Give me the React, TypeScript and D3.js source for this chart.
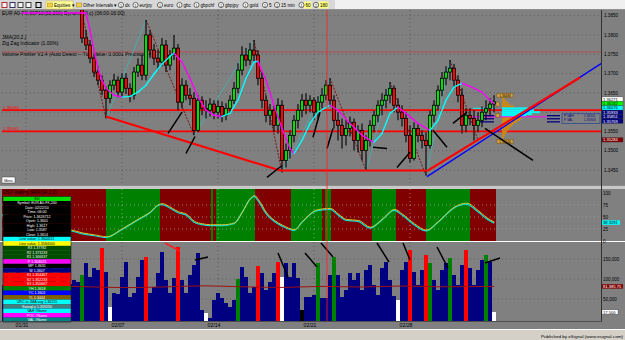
import React, { useEffect } from 'react';
import * as d3 from 'd3';

const FONT = "'Liberation Sans', Arial, Helvetica, sans-serif";

// ---------- data ----------
const dateLabels = ['01/31', '02/07', '02/14', '02/21', '02/28'];
const dateIdx = [6, 30, 54, 78, 102];

const priceTicks = [1.345, 1.35, 1.355, 1.36, 1.365, 1.37, 1.375, 1.38, 1.385];
const oscTicks = [0, 25, 50, 75, 100];
const volTicks = [50000, 100000, 150000];

const firstOpen = 1.3965;
const highs = [
  1.3968, 1.3962, 1.3956, 1.3959, 1.3952, 1.3946, 1.3948, 1.3943, 1.3937, 1.3939,
  1.3933, 1.3926, 1.3928, 1.3922, 1.3916, 1.3918, 1.3913, 1.3904, 1.3906, 1.3901,
  1.3900, 1.3813, 1.3787, 1.3751, 1.3719, 1.3696, 1.3667, 1.3683, 1.3699, 1.3693,
  1.3701, 1.3701, 1.3675, 1.3717, 1.3740, 1.3748, 1.3839, 1.3813, 1.3777, 1.3761,
  1.3792, 1.3787, 1.3761, 1.3800, 1.3777, 1.3688, 1.3683, 1.3662, 1.3652, 1.3644,
  1.3641, 1.3631, 1.3636, 1.3631, 1.3631, 1.3628, 1.3623, 1.3644, 1.3678, 1.3727,
  1.3771, 1.3766, 1.3779, 1.3787, 1.3761, 1.3704, 1.3644, 1.3621, 1.3618, 1.3636,
  1.3631, 1.3519, 1.3553, 1.3592, 1.3621, 1.3647, 1.3649, 1.3644, 1.3639, 1.3641,
  1.3662, 1.3683, 1.3688, 1.3644, 1.3600, 1.3584, 1.3579, 1.3589, 1.3584, 1.3566,
  1.3571, 1.3540, 1.3579, 1.3605, 1.3631, 1.3649, 1.3660, 1.3678, 1.3670, 1.3636,
  1.3618, 1.3600, 1.3566, 1.3574, 1.3569, 1.3553, 1.3548, 1.3605, 1.3631, 1.3670,
  1.3704, 1.3719, 1.3735, 1.3725, 1.3696, 1.3662, 1.3610, 1.3610, 1.3605, 1.3600,
  1.3615, 1.3631, 1.3636, 1.3644,
];
const lows = [
  1.3952, 1.3947, 1.3940, 1.3944, 1.3937, 1.3930, 1.3933, 1.3927, 1.3921, 1.3924,
  1.3917, 1.3910, 1.3913, 1.3906, 1.3900, 1.3903, 1.3894, 1.3888, 1.3891, 1.3882,
  1.3779, 1.3761, 1.3727, 1.3691, 1.3670, 1.3644, 1.3584, 1.3623, 1.3657, 1.3639,
  1.3639, 1.3647, 1.3626, 1.3633, 1.3691, 1.3683, 1.3683, 1.3740, 1.3722, 1.3709,
  1.3719, 1.3704, 1.3709, 1.3735, 1.3605, 1.3610, 1.3631, 1.3618, 1.3540, 1.3548,
  1.3592, 1.3584, 1.3589, 1.3582, 1.3584, 1.3574, 1.3579, 1.3597, 1.3621, 1.3649,
  1.3696, 1.3719, 1.3722, 1.3730, 1.3670, 1.3610, 1.3574, 1.3566, 1.3548, 1.3545,
  1.3444, 1.3457, 1.3480, 1.3522, 1.3558, 1.3587, 1.3595, 1.3600, 1.3579, 1.3584,
  1.3610, 1.3631, 1.3615, 1.3558, 1.3527, 1.3506, 1.3514, 1.3537, 1.3501, 1.3496,
  1.3475, 1.3449, 1.3511, 1.3548, 1.3574, 1.3592, 1.3610, 1.3623, 1.3600, 1.3579,
  1.3563, 1.3522, 1.3470, 1.3475, 1.3522, 1.3506, 1.3436, 1.3506, 1.3574, 1.3605,
  1.3641, 1.3670, 1.3683, 1.3662, 1.3626, 1.3545, 1.3548, 1.3566, 1.3527, 1.3548,
  1.3561, 1.3579, 1.3589, 1.3600,
];
const closes = [
  1.3960, 1.3955, 1.3948, 1.3952, 1.3945, 1.3938, 1.3941, 1.3935, 1.3929, 1.3932,
  1.3925, 1.3918, 1.3921, 1.3914, 1.3908, 1.3911, 1.3902, 1.3896, 1.3899, 1.3890,
  1.3792, 1.3774, 1.3740, 1.3704, 1.3683, 1.3657, 1.3636, 1.3670, 1.3683, 1.3652,
  1.3688, 1.3662, 1.3644, 1.3704, 1.3722, 1.3696, 1.3800, 1.3761, 1.3740, 1.3730,
  1.3774, 1.3722, 1.3748, 1.3766, 1.3626, 1.3670, 1.3644, 1.3636, 1.3553, 1.3631,
  1.3610, 1.3605, 1.3621, 1.3600, 1.3615, 1.3592, 1.3610, 1.3631, 1.3662, 1.3709,
  1.3748, 1.3735, 1.3761, 1.3748, 1.3688, 1.3631, 1.3592, 1.3605, 1.3566, 1.3618,
  1.3475, 1.3501, 1.3540, 1.3579, 1.3605, 1.3631, 1.3618, 1.3631, 1.3600, 1.3626,
  1.3644, 1.3670, 1.3631, 1.3579, 1.3566, 1.3540, 1.3558, 1.3574, 1.3527, 1.3553,
  1.3501, 1.3527, 1.3566, 1.3592, 1.3618, 1.3631, 1.3644, 1.3662, 1.3618, 1.3600,
  1.3584, 1.3540, 1.3480, 1.3558, 1.3540, 1.3527, 1.3514, 1.3592, 1.3618, 1.3657,
  1.3688, 1.3704, 1.3714, 1.3683, 1.3644, 1.3566, 1.3592, 1.3584, 1.3566, 1.3579,
  1.3600, 1.3610, 1.3621, 1.3627,
];

const volumes = [
  85000, 122500, 72500, 110000, 135000, 97500, 60000, 122500, 147500, 85000,
  102500, 72500, 127500, 110000, 77500, 117500, 132500, 87500, 97500, 92500,
  110000, 140000, 105000, 127500, 122500, 177500, 117500, 30000, 65000, 62500,
  105000, 142500, 55000, 65000, 105000, 147500, 155000, 65000, 80000, 115000,
  167500, 97500, 65000, 102500, 180000, 97500, 65000, 110000, 135000, 165000,
  22500, 15000, 2500, 47500, 65000, 52500, 40000, 30000, 47500, 100000,
  130000, 105000, 65000, 80000, 132500, 115000, 72500, 92500, 115000, 142500,
  105000, 140000, 105000, 140000, 102500, 22500, 55000, 55000, 60000, 140000,
  52500, 52500, 110000, 155000, 110000, 55000, 72500, 115000, 97500, 115000,
  72500, 122500, 135000, 85000, 60000, 127500, 142500, 97500, 57500, 47500,
  122500, 142500, 172500, 117500, 85000, 122500, 160000, 140000, 97500, 72500,
  122500, 140000, 152500, 110000, 85000, 135000, 172500, 127500, 85000, 122500,
  147500, 160000, 142500, 17500,
];
const volCodes = (
  'bbbbbbbbbb' + 'bbbbbbbbbb' + 'gbbbbrbwbb' + 'bbbbbbrbbb' + 'bbbbrbbbbb' +
  'bwbbbbbbbg' + 'bbbbrbbbbr' + 'wbbbbkbbbg' + 'bbbgbbbbbb' + 'bbbbbbbbbw' +
  'bbrbbbrgbb' + 'bbgbbbrbbb' + 'bgbw'
).split('');

const volAvgIdx = [0, 10, 20, 30, 40, 50, 60, 70, 80, 90, 100, 110, 123];
const volAvgVal = [80000, 82000, 81000, 78500, 80000, 83000, 80500, 79000, 81500, 80000, 82500, 80500, 81385.75];

const maIdx = [5, 12, 19, 21, 22, 23, 24, 25, 26, 28, 30, 32, 34, 36, 38, 40, 42, 43, 45, 47, 49, 51, 53, 55, 57, 59, 61, 63, 64, 66, 68, 70, 72, 73, 75, 77, 79, 82, 84, 87, 90, 93, 95, 97, 99, 101, 104, 107, 109, 111, 113, 115, 117, 120, 122, 123];
const maVal = [1.3950, 1.3920, 1.3885, 1.3860, 1.3813, 1.3761, 1.3714, 1.3683, 1.3662, 1.3644, 1.3639, 1.3641, 1.3652, 1.3670, 1.3699, 1.3725, 1.3745, 1.3753, 1.3730, 1.3688, 1.3639, 1.3605, 1.3592, 1.3589, 1.3597, 1.3631, 1.3688, 1.3730, 1.3732, 1.3683, 1.3618, 1.3558, 1.3506, 1.3493, 1.3527, 1.3571, 1.3600, 1.3618, 1.3605, 1.3571, 1.3540, 1.3522, 1.3545, 1.3597, 1.3613, 1.3597, 1.3571, 1.3553, 1.3579, 1.3631, 1.3665, 1.3675, 1.3667, 1.3652, 1.3631, 1.3623];

const zzIdx = [19, 26, 36, 48, 63, 70, 82, 91, 97, 106, 112, 119];
const zzVal = [1.3900, 1.3584, 1.3839, 1.3540, 1.3787, 1.3444, 1.3688, 1.3449, 1.3678, 1.3436, 1.3735, 1.3527];

const redTrendIdx = [26, 69.5, 106.5, 144.5];
const redTrendVal = [1.3589, 1.3449, 1.3449, 1.3690];
const blueTrendIdx = [106.25, 152];
const blueTrendVal = [1.3433, 1.3741];

const blkIdx0 = [41.5, 46, 66.25, 77.75, 81.25, 92.75, 98.75, 107.75, 112.75, 120.75];
const blkVal0 = [1.3545, 1.3493, 1.3431, 1.3535, 1.3506, 1.3509, 1.3457, 1.3553, 1.3571, 1.3558];
const blkIdx1 = [45, 48.25, 70, 79.5, 82.75, 96.25, 102, 111.25, 116.25, 132.75];
const blkVal1 = [1.3600, 1.3537, 1.3462, 1.3600, 1.3558, 1.3506, 1.3496, 1.3509, 1.3600, 1.3475];

const vAnnIdx0 = [40.75, 48.25, 69, 75.75, 79.75, 93.75, 100.25, 108.75, 120.75];
const vAnnVal0 = [190000, 147500, 165000, 165000, 190000, 190000, 190000, 180000, 140000];
const vAnnIdx1 = [44.5, 51.5, 71.5, 78.75, 82.75, 96.75, 102, 111.5, 124.5];
const vAnnVal1 = [170000, 155000, 105000, 130000, 155000, 142500, 147500, 127500, 152500];
const vAnnCol = ['r', 'k', 'k', 'k', 'k', 'k', 'k', 'k', 'k'];

const oscIdx = [0, 4, 8, 12, 16, 20, 23, 26, 30, 34, 37, 39, 40, 41, 44, 46, 48, 50, 52, 55, 58, 60, 62, 63, 64, 66, 68, 70, 73, 75, 78, 80, 82, 84, 86, 89, 92, 95, 98, 100, 103, 106, 109, 113, 116, 119, 121, 123];
const oscVal = [55, 48, 40, 33, 25, 16, 12, 8, 25, 45, 60, 75, 77, 74, 60, 55, 40, 35, 33, 33, 37, 60, 88, 94, 85, 58, 42, 32, 23, 40, 62, 66, 67, 55, 44, 42, 28, 45, 65, 55, 35, 22, 40, 70, 78, 62, 48, 38.3291];
const bandStart = [-0.25, 26, 39.5, 52.25, 52.75, 53.5, 63.25, 72.25, 80, 80.75, 82.25, 92.5, 98.5, 106, 117];
const bandCol = ['r', 'g', 'r', 'g', 'r', 'g', 'r', 'g', 'r', 'g', 'r', 'g', 'r', 'g', 'r'];
const bandEnd = 123.5;

const profPrice = [1.3635, 1.3630, 1.3625, 1.3620, 1.3615, 1.3610, 1.3605, 1.3600, 1.3595, 1.3590, 1.3585, 1.3580, 1.3575, 1.3570, 1.3565, 1.3560, 1.3555, 1.3550, 1.3545, 1.3540, 1.3535];
const profVol = [20, 40, 60, 80, 120, 260, 320, 380, 300, 240, 200, 180, 150, 120, 100, 80, 70, 50, 40, 30, 20];
const profCode = ['o', 'o', 'o', 'o', 'o', 'c', 'c', 'c', 'c', 'c', 'o', 'o', 'o', 'o', 'o', 'o', 'o', 'o', 'o', 'o', 'o'];

const levelVals = [1.36056, 1.35501];
const levelLabels = ['1.36056', '1.35501'];
const thinLevel = 1.3756;

const axisBoxVal = [1.36271, 1.36182, 1.36076, 1.35933, 1.35851, 1.35769, 1.35284];
const axisBoxFill = ['#ffffff', '#00ff00', '#00ffff', '#000080', '#000080', '#000080', '#800000'];
const axisBoxFg = ['#000', '#000', '#000', '#fff', '#fff', '#fff', '#fff'];

const legendText = ['EU', 'Symbol: EUR A0-FX,240', 'Date: 02/22/10', 'Time: 06:00', 'Price: 1.3626712', 'Open: 1.3601', 'High: 1.3617', 'Low: 1.3587', 'Close: 1.3614', 'Line value: 1.3604111', 'Line value: 1.3584000', 'R3  1.37782', 'R2  1.373233', 'R1  1.366637', 'P  1.364023', 'MP  1.3631', 'W  1.3607', 'S1  1.354467', 'S2  1.352233', 'S3  1.350667', 'YH  1.3618', 'YC  1.3601', 'YL  1.3444', 'URC to JMA avg 1.36155', 'SwingLo 1.359250', 'VAH #Name', 'POC #Name', 'VAL #Name'];
const legendBg = ['#00e000', '#000', '#000', '#000', '#000', '#000', '#000', '#000', '#000', '#00ffff', '#ffff00', '#004d00', '#004d00', '#004d00', '#ff00ff', '#000', '#000080', '#ff0000', '#ff0000', '#ff0000', '#008000', '#0000ff', '#806000', '#00ffff', '#408080', '#00ffff', '#ff00ff', '#008080'];
const legendFg = ['#000', '#fff', '#fff', '#fff', '#fff', '#fff', '#fff', '#fff', '#fff', '#000', '#000', '#fff', '#fff', '#fff', '#fff', '#fff', '#fff', '#fff', '#fff', '#fff', '#fff', '#fff', '#fff', '#000', '#fff', '#000', '#fff', '#fff'];

const toolbarLabels = ['dx', 'eurjpy', 'euro', 'gbc', 'gbpchf', 'gbpjpy', 'gold', '5', '15 min', '60', '180'];
const toolbarHot = ['60', '180'];

const headerLines = ['JMA(20,2,)', 'Zig Zag Indicator (1.00%)', 'Volume Profiler V2.4 (Auto Detect -- Tick Value: 0.0001 Precision: 4)'];

// ---------- layout ----------
const M = { x0: 2, x1: 601, y0: 10, y1: 185 };
const O = { y0: 189, y1: 241 };
const V = { y0: 242, y1: 321 };

export default function App() {
  useEffect(() => {
    document.body.style.margin = '0';
  }, []);

  const xS = d3.scaleLinear().domain([0, 123]).range([2, 494]);
  const pY = d3.scaleLinear().domain([1.345, 1.38]).range([170.1, 35]);
  const oY = d3.scaleLinear().domain([0, 100]).range([241, 193]);
  const vY = d3.scaleLinear().domain([0, 150000]).range([319, 259]);
  const profW = d3.scaleLinear().domain([0, 380]).range([0, 38]);
  const fmtVol = d3.format(',');
  const fmtAvg = d3.format(',.2f');

  const opens = closes.map((c, i) => (i === 0 ? firstOpen : closes[i - 1]));

  const volColor: Record<string, string> = { b: '#000080', r: '#ff0000', g: '#008000', w: '#ffffff', k: '#000000' };
  const bandColor: Record<string, string> = { r: '#800000', g: '#008000' };

  const maSegs = maIdx.slice(1).map((_, k) => {
    const a = k, b = k + 1;
    const y1 = Math.max(pY(maVal[a]), 13), y2 = Math.max(pY(maVal[b]), 13);
    return { x1: xS(maIdx[a]), y1, x2: xS(maIdx[b]), y2, up: maVal[b] > maVal[a] };
  });
  const zzSegs = zzIdx.slice(1).map((_, k) => ({
    x1: xS(zzIdx[k]), y1: pY(zzVal[k]), x2: xS(zzIdx[k + 1]), y2: pY(zzVal[k + 1]), up: zzVal[k + 1] > zzVal[k],
  }));

  const lineP = d3.line<[number, number]>().x(d => xS(d[0])).y(d => pY(d[1]));
  const oscLine = d3.line<[number, number]>().x(d => xS(d[0])).y(d => oY(d[1])).curve(d3.curveMonotoneX);
  const avgLine = d3.line<[number, number]>().x(d => xS(d[0])).y(d => vY(d[1])).curve(d3.curveMonotoneX);

  const oscData = oscIdx.map((v, i) => [v, oscVal[i]] as [number, number]);
  const avgData = volAvgIdx.map((v, i) => [v, volAvgVal[i]] as [number, number]);

  const boxH = 4.4;
  const boxY = axisBoxVal.map(v => pY(v));
  for (let k = boxY.length - 2; k >= 0; k--) {
    if (boxY[k] > boxY[k + 1] - boxH) boxY[k] = boxY[k + 1] - boxH;
  }

  let tx = 118;
  const tbItems = toolbarLabels.map(l => {
    const w = l.length * 2.5 + 9.5;
    const item = { l, x: tx, w };
    tx += w;
    return item;
  });

  const rowH = (322 - 196.5) / legendText.length;
  const markerX = xS(81.25);
  const profX = xS(125);

  return (
    <svg width={625} height={340} style={{ position: 'absolute', left: 0, top: 0, display: 'block' }} fontFamily={FONT}>
      <defs>
        <clipPath id="mainClip"><rect x={M.x0} y={M.y0} width={M.x1 - M.x0} height={M.y1 - M.y0} /></clipPath>
        <clipPath id="oscClip"><rect x={2} y={O.y0} width={599} height={O.y1 - O.y0} /></clipPath>
        <clipPath id="volClip"><rect x={2} y={V.y0} width={599} height={V.y1 - V.y0} /></clipPath>
      </defs>
      <rect x={0} y={0} width={625} height={340} fill="#808080" />

      {/* toolbar */}
      <rect x={0} y={0} width={335} height={10} fill="#d8d8d8" />
      <rect x={335} y={0} width={290} height={10} fill="#f0f0f0" />
      <line x1={0} x2={625} y1={9.5} y2={9.5} stroke="#909090" strokeWidth={1} />
      {['#b03030', '#303060', '#404040', '#404040', '#000000'].map((c, k) => (
        <rect key={k} x={2 + k * 8 + (k === 4 ? 2 : 0)} y={2.5} width={5} height={5} fill={k === 4 ? 'none' : '#f4f4f4'} stroke={c} strokeWidth={1} />
      ))}
      <rect x={46} y={1} width={27} height={8} fill="#ffff99" stroke="#c8b040" strokeWidth={0.5} />
      <rect x={47.5} y={3} width={5} height={4} fill="#f0d040" stroke="#a08020" strokeWidth={0.5} />
      <text x={54} y={7} fontSize={4.6} fill="#000">Equities ▾</text>
      <rect x={76.5} y={3} width={5} height={4} fill="#f0d040" stroke="#a08020" strokeWidth={0.5} />
      <text x={83} y={7} fontSize={4.6} fill="#000">Other Intervals ▾</text>
      {tbItems.map(it => (
        <g key={it.l}>
          {toolbarHot.includes(it.l) && <rect x={it.x + 5.5} y={1.5} width={it.w - 7} height={7} fill="#ffff80" />}
          <circle cx={it.x + 3} cy={5} r={2.6} fill="#fafafa" stroke="#303030" strokeWidth={0.7} />
          <text x={it.x + 3} y={6.5} fontSize={3.6} textAnchor="middle" fill="#000">1</text>
          <text x={it.x + 7} y={7} fontSize={4.6} fill="#000">{it.l}</text>
        </g>
      ))}

      {/* main panel */}
      <g clipPath="url(#mainClip)">
        {priceTicks.map(t => (
          <line key={t} x1={M.x0} x2={M.x1} y1={pY(t)} y2={pY(t)} stroke="#505050" strokeWidth={0.8} strokeDasharray="1,3" />
        ))}
        {dateIdx.map(d => (
          <line key={d} x1={xS(d)} x2={xS(d)} y1={M.y0} y2={M.y1} stroke="#505050" strokeWidth={0.8} strokeDasharray="1,3" />
        ))}
        <text x={2} y={15} fontSize={5} fill="#000">EUR A0-FX,60</text>
        <text x={35} y={15} fontSize={5} fill="#000">P10(32,200) Dynamic(3,c) (06:00-16:00)</text>
        {headerLines.map((t, k) => (
          <text key={t} x={2} y={[39, 45, 56][k]} fontSize={5} fill="#000">{t}</text>
        ))}
        <line x1={M.x0} x2={M.x1} y1={pY(thinLevel)} y2={pY(thinLevel)} stroke="#c04040" strokeWidth={0.8} />
        {levelVals.map((v, k) => (
          <g key={v}>
            <line x1={M.x0} x2={M.x1} y1={pY(v)} y2={pY(v)} stroke="#ff0000" strokeWidth={1.8} />
            <text x={3} y={pY(v) - 1.2} fontSize={4.4} fill="#ff0000">{levelLabels[k]}</text>
          </g>
        ))}

        {/* volume profile */}
        {profPrice.map((p, k) => (
          <rect key={p} x={profX} y={pY(p) - 0.95} width={profW(profVol[k])} height={1.9}
            fill={profCode[k] === 'c' ? '#00ffff' : '#d08a10'} />
        ))}
        <line x1={xS(115)} x2={xS(136.25)} y1={pY(1.3588)} y2={pY(1.3588)} stroke="#ff00ff" strokeWidth={1} />
        <line x1={xS(117.75)} x2={xS(122.75)} y1={pY(1.3610)} y2={pY(1.3610)} stroke="#00ffff" strokeWidth={1} />
        {[1.3591, 1.3583, 1.3575].map(p => (
          <g key={p}>
            <line x1={xS(119.5)} x2={xS(123)} y1={pY(p)} y2={pY(p)} stroke="#000080" strokeWidth={1.3} />
            <line x1={xS(136.25)} x2={xS(139.5)} y1={pY(p)} y2={pY(p)} stroke="#000080" strokeWidth={1.3} />
          </g>
        ))}
        <rect x={xS(140)} y={pY(1.3596)} width={38} height={pY(1.3571) - pY(1.3596)} fill="none" stroke="#2040a0" strokeWidth={0.7} />
        <text x={xS(140) + 2} y={pY(1.3588)} fontSize={3.2} fill="#000080">P-VAH</text>
        <text x={xS(140) + 22} y={pY(1.3588)} fontSize={3.2} fill="#000080">1.36101</text>
        <text x={xS(140) + 2} y={pY(1.3578)} fontSize={3.2} fill="#000080">P-VAL</text>
        <text x={xS(140) + 22} y={pY(1.3578)} fontSize={3.2} fill="#000080">1.35903</text>
        {[1.36436, 1.35244].map(p => (
          <g key={p}>
            <rect x={xS(123.75)} y={pY(p) - 2} width={16} height={4} fill="#d4a040" stroke="#604000" strokeWidth={0.4} />
            <text x={xS(123.75) + 8} y={pY(p) + 1.2} fontSize={3.2} textAnchor="middle" fill="#000">{p.toFixed(5)}</text>
          </g>
        ))}
        {[1.3621, 1.3592].map(p => (
          <rect key={p} x={xS(123.5)} y={pY(p) - 2} width={3.5} height={4} fill="#d4a040" stroke="#604000" strokeWidth={0.4} />
        ))}

        {/* zigzag */}
        {zzSegs.map((s, k) => (
          <line key={k} x1={s.x1} y1={s.y1} x2={s.x2} y2={s.y2}
            stroke={s.up ? '#30c0c0' : '#800000'} strokeWidth={s.up ? 0.7 : 0.9}
            strokeDasharray={s.up ? undefined : '2,1.4'} />
        ))}

        {/* candles */}
        {closes.map((c, i) => {
          const o = opens[i];
          const x = xS(i);
          const top = pY(Math.max(o, c));
          const bot = pY(Math.min(o, c));
          return (
            <g key={i}>
              <line x1={x} x2={x} y1={pY(highs[i])} y2={pY(lows[i])} stroke="#000" strokeWidth={1.1} />
              <rect x={x - 1.5} y={top} width={3} height={Math.max(1, bot - top)}
                fill={c >= o ? '#00e000' : '#ff0000'} stroke="#000" strokeWidth={0.8} />
            </g>
          );
        })}

        {/* moving average */}
        {maSegs.map((s, k) => (
          <line key={k} x1={s.x1} y1={s.y1} x2={s.x2} y2={s.y2} stroke={s.up ? '#00ffff' : '#ff00ff'} strokeWidth={1.4} strokeLinecap="round" />
        ))}

        {/* trend lines */}
        <path d={lineP(blueTrendIdx.map((v, i) => [v, blueTrendVal[i]] as [number, number])) || ''} fill="none" stroke="#0000ff" strokeWidth={1.4} />
        <path d={lineP(redTrendIdx.map((v, i) => [v, redTrendVal[i]] as [number, number])) || ''} fill="none" stroke="#ff0000" strokeWidth={2.2} />

        {/* black annotations */}
        {blkIdx0.map((v, k) => (
          <line key={k} x1={xS(v)} y1={pY(blkVal0[k])} x2={xS(blkIdx1[k])} y2={pY(blkVal1[k])} stroke="#000" strokeWidth={1.5} />
        ))}

        <rect x={2} y={177} width={13} height={6} fill="#ffffff" stroke="#404040" strokeWidth={0.5} />
        <text x={8.5} y={181.6} fontSize={3.4} textAnchor="middle" fill="#000">Menu</text>
      </g>

      {/* separators */}
      <rect x={0} y={185} width={625} height={4} fill="#c8c8c8" />
      <line x1={0} x2={625} y1={185.5} y2={185.5} stroke="#606060" strokeWidth={0.6} />

      {/* oscillator panel */}
      <g clipPath="url(#oscClip)">
        {bandStart.map((s, k) => {
          const e = k < bandStart.length - 1 ? bandStart[k + 1] : bandEnd;
          return <rect key={k} x={xS(s)} y={O.y0} width={xS(e) - xS(s)} height={O.y1 - O.y0} fill={bandColor[bandCol[k]]} />;
        })}
        {[25, 50, 75].map(t => (
          <line key={t} x1={2} x2={601} y1={oY(t)} y2={oY(t)} stroke="#b0b0b0" strokeWidth={0.7} strokeDasharray="1,3" />
        ))}
        {dateIdx.map(d => (
          <line key={d} x1={xS(d)} x2={xS(d)} y1={O.y0} y2={O.y1} stroke="#b0b0b0" strokeWidth={0.7} strokeDasharray="1,3" />
        ))}
        <path d={oscLine(oscData) || ''} fill="none" stroke="#00e0e0" strokeWidth={1.2} transform="translate(0,0.5)" />
        <path d={oscLine(oscData) || ''} fill="none" stroke="#d8c830" strokeWidth={1} transform="translate(0.6,-0.4)" />
        <text x={3} y={193.5} fontSize={4.8} fill="#000">DSX trailing SMA(14,2,2)</text>
      </g>
      <line x1={0} x2={625} y1={241.5} y2={241.5} stroke="#ffffff" strokeWidth={1} />

      {/* volume panel */}
      <g clipPath="url(#volClip)">
        {volTicks.map(t => (
          <line key={t} x1={2} x2={601} y1={vY(t)} y2={vY(t)} stroke="#505050" strokeWidth={0.8} strokeDasharray="1,3" />
        ))}
        {dateIdx.map(d => (
          <line key={d} x1={xS(d)} x2={xS(d)} y1={V.y0} y2={V.y1} stroke="#505050" strokeWidth={0.8} strokeDasharray="1,3" />
        ))}
        {volumes.map((v, i) => (
          <rect key={i} x={xS(i) - 2} y={vY(v)} width={4} height={vY(0) + 2 - vY(v)} fill={volColor[volCodes[i]]} />
        ))}
        <path d={avgLine(avgData) || ''} fill="none" stroke="#a01010" strokeWidth={1} />
        {vAnnIdx0.map((v, k) => (
          <line key={k} x1={xS(v)} y1={vY(vAnnVal0[k])} x2={xS(vAnnIdx1[k])} y2={vY(vAnnVal1[k])}
            stroke={vAnnCol[k] === 'r' ? '#ff2020' : '#000'} strokeWidth={1.5} />
        ))}
      </g>

      {/* current bar marker */}
      <line x1={markerX} x2={markerX} y1={M.y0} y2={V.y1} stroke="#ff2020" strokeWidth={0.8} />

      {/* legend box */}
      <g>
        {legendText.map((t, k) => (
          <g key={k}>
            <rect x={3} y={196.5 + k * rowH} width={68} height={rowH + 0.1} fill={legendBg[k]} />
            <text x={37} y={196.5 + k * rowH + rowH * 0.78} fontSize={3.6} textAnchor="middle" fill={legendFg[k]}>{t}</text>
          </g>
        ))}
        <rect x={3} y={196.5} width={68} height={rowH * legendText.length} fill="none" stroke="#202020" strokeWidth={0.6} />
      </g>

      {/* right axis */}
      <line x1={601.5} x2={601.5} y1={M.y0} y2={V.y1} stroke="#303030" strokeWidth={1} />
      {priceTicks.map(t => (
        <text key={t} x={604} y={pY(t) + 1.6} fontSize={4.6} fill="#000">{t.toFixed(4)}</text>
      ))}
      {axisBoxVal.map((v, k) => (
        <g key={v}>
          <rect x={602} y={boxY[k] - boxH / 2} width={21} height={boxH} fill={axisBoxFill[k]} stroke="#303030" strokeWidth={0.3} />
          <text x={603} y={boxY[k] + 1.5} fontSize={4.1} fill={axisBoxFg[k]}>{v.toFixed(5)}</text>
        </g>
      ))}
      {oscTicks.map(t => (
        <text key={t} x={603} y={oY(t) + 1.6} fontSize={4.5} fill="#000">{t}</text>
      ))}
      <rect x={602} y={oY(oscVal[oscVal.length - 1]) - 2.2} width={18} height={4.4} fill="#00ffff" />
      <text x={603} y={oY(oscVal[oscVal.length - 1]) + 1.5} fontSize={4.1} fill="#000">{oscVal[oscVal.length - 1].toFixed(4)}</text>
      {volTicks.map(t => (
        <text key={t} x={603} y={vY(t) + 1.6} fontSize={4.5} fill="#000">{fmtVol(t)}</text>
      ))}
      <rect x={602} y={vY(volAvgVal[volAvgVal.length - 1]) - 2.2} width={21} height={4.4} fill="#800000" />
      <text x={603} y={vY(volAvgVal[volAvgVal.length - 1]) + 1.5} fontSize={4.1} fill="#fff">{fmtAvg(volAvgVal[volAvgVal.length - 1])}</text>
      <rect x={602} y={vY(volumes[volumes.length - 1]) - 2.2} width={16} height={4.4} fill="#ffffff" stroke="#303030" strokeWidth={0.3} />
      <text x={603} y={vY(volumes[volumes.length - 1]) + 1.5} fontSize={4.1} fill="#000">{fmtVol(volumes[volumes.length - 1])}</text>

      {/* date axis */}
      <line x1={0} x2={602} y1={321.5} y2={321.5} stroke="#404040" strokeWidth={0.8} />
      {dateLabels.map((l, k) => (
        <text key={l} x={xS(dateIdx[k]) - 4} y={327} fontSize={5.2} textAnchor="middle" fill="#000">{l}</text>
      ))}

      {/* status bar */}
      <rect x={0} y={329} width={625} height={11} fill="#d4d0c8" />
      <line x1={0} x2={625} y1={329.5} y2={329.5} stroke="#ffffff" strokeWidth={1} />
      <text x={623} y={337.5} fontSize={4.4} textAnchor="end" fill="#000" textLength={82} lengthAdjust="spacingAndGlyphs">Published by eSignal (www.esignal.com)</text>
    </svg>
  );
}
